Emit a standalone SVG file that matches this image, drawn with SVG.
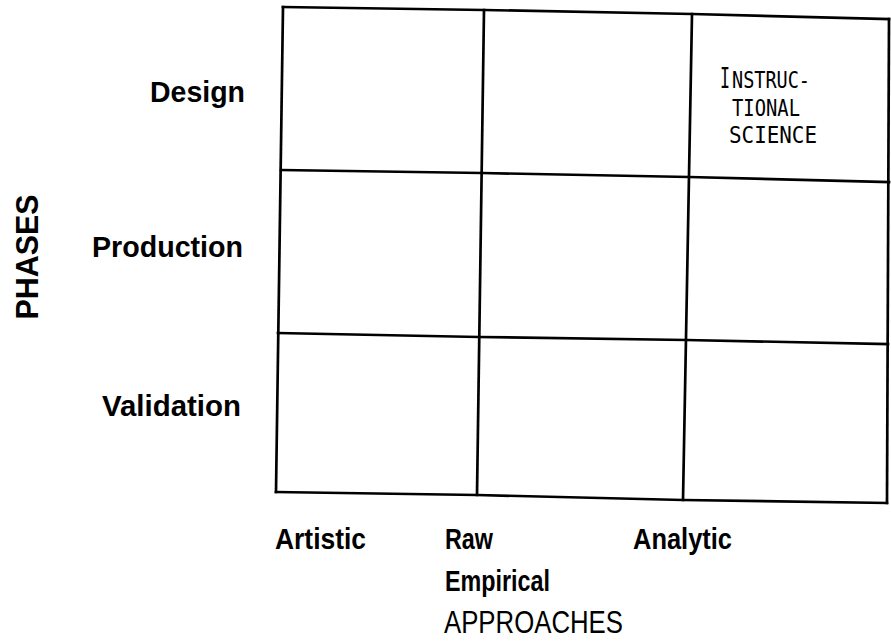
<svg xmlns="http://www.w3.org/2000/svg" width="891" height="643" viewBox="0 0 891 643">
  <style>
    .grid { fill: none; stroke: #000; stroke-width: 2.7; stroke-linejoin: miter; stroke-linecap: square; }
    .lbl { font-family: "Liberation Sans", Arial, sans-serif; font-weight: bold; font-size: 30px; fill: #000; }
    .axis { font-family: "Liberation Sans", Arial, sans-serif; font-size: 31px; fill: #000; }
    .mono { font-family: "DejaVu Sans Mono", "Liberation Mono", monospace; font-size: 23px; fill: #000; }
  </style>
  <rect width="891" height="643" fill="#fff"/>

  <!-- 3 x 3 matrix, slightly skewed -->
  <g id="matrix">
    <polyline class="grid" points="283,7 484,10 692,14 889,19"/>
    <polyline class="grid" points="281,170 482,173 689,177 889,182"/>
    <polyline class="grid" points="278,333 479,337 686,340 888,344"/>
    <polyline class="grid" points="276,492 477,495 683,500 887,503"/>
    <line class="grid" x1="283" y1="7" x2="276" y2="492"/>
    <line class="grid" x1="484" y1="10" x2="477" y2="495"/>
    <line class="grid" x1="692" y1="14" x2="683" y2="500"/>
    <line class="grid" x1="889" y1="19" x2="887" y2="503"/>
  </g>

  <!-- row labels -->
  <g id="phases">
    <text class="axis" transform="translate(38,257) rotate(-90)" text-anchor="middle" font-weight="bold" textLength="125" lengthAdjust="spacingAndGlyphs">PHASES</text>
  </g>
  <g id="row-design">
    <text class="lbl" x="150" y="102" textLength="95" lengthAdjust="spacingAndGlyphs">Design</text>
  </g>
  <g id="row-production">
    <text class="lbl" x="92" y="257" textLength="151" lengthAdjust="spacingAndGlyphs">Production</text>
  </g>
  <g id="row-validation">
    <text class="lbl" x="102" y="416" textLength="139" lengthAdjust="spacingAndGlyphs">Validation</text>
  </g>

  <!-- column labels -->
  <g id="col-artistic">
    <text class="lbl" x="275" y="549" textLength="91" lengthAdjust="spacingAndGlyphs">Artistic</text>
  </g>
  <g id="col-raw-empirical">
    <text class="lbl" x="445" y="549" textLength="48" lengthAdjust="spacingAndGlyphs">Raw</text>
    <text class="lbl" x="445" y="591" textLength="105" lengthAdjust="spacingAndGlyphs">Empirical</text>
  </g>
  <g id="col-analytic">
    <text class="lbl" x="633" y="549" textLength="99" lengthAdjust="spacingAndGlyphs">Analytic</text>
  </g>
  <g id="approaches">
    <text class="axis" x="444" y="633" textLength="179" lengthAdjust="spacingAndGlyphs">APPROACHES</text>
  </g>

  <!-- cell entry: Analytic / Design -->
  <g id="cell-instructional-science">
    <text class="mono" x="720" y="88"><tspan font-size="28" textLength="10" lengthAdjust="spacingAndGlyphs">I</tspan><tspan x="732" textLength="78" lengthAdjust="spacingAndGlyphs">NSTRUC-</tspan></text>
    <text class="mono" x="732" y="116" textLength="68" lengthAdjust="spacingAndGlyphs">TIONAL</text>
    <text class="mono" x="729" y="143" textLength="88" lengthAdjust="spacingAndGlyphs">SCIENCE</text>
  </g>
</svg>
